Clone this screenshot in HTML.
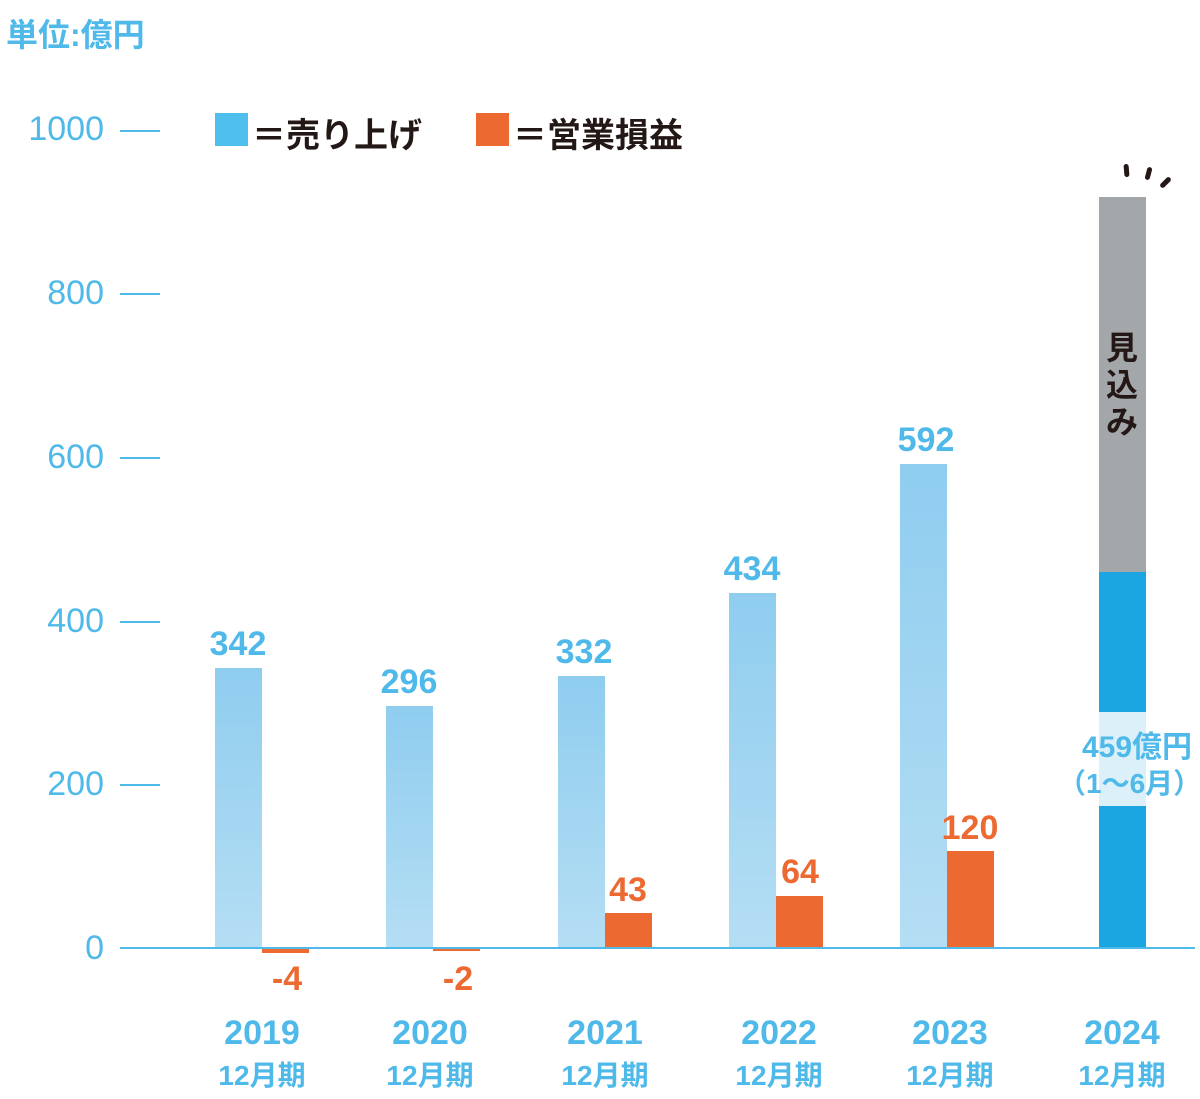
<!DOCTYPE html>
<html><head><meta charset="utf-8"><style>
body{margin:0;width:1200px;height:1097px;background:#fff;position:relative;overflow:hidden;font-family:"Liberation Sans","Noto Sans CJK JP",sans-serif}
.a{position:absolute}
.t{position:absolute;color:#4fb9e9;font-weight:bold;white-space:nowrap}
.yl{position:absolute;color:#4fb9e9;font-size:34px;text-align:right;width:104px;left:0}
.tk{position:absolute;left:120px;width:40px;height:2px;background:#4fb9e9}
.b{position:absolute;background:linear-gradient(#8fcdef,#b5def4)}
.o{position:absolute;background:#ec6a32}
.v{position:absolute;font-size:34px;font-weight:bold;text-align:center;width:120px}
.x{position:absolute;color:#4fb9e9;font-weight:bold;text-align:center;width:150px;line-height:36px}
.m{position:absolute;width:5px;height:13px;background:#231815;border-radius:3px}
</style></head><body>
<div class="t" style="left:6px;top:10px;font-size:32px">単位:億円</div>
<div class="yl" style="top:110px">1000</div><div class="tk" style="top:130px"></div>
<div class="yl" style="top:274px">800</div><div class="tk" style="top:293px"></div>
<div class="yl" style="top:438px">600</div><div class="tk" style="top:457px"></div>
<div class="yl" style="top:602px">400</div><div class="tk" style="top:621px"></div>
<div class="yl" style="top:765px">200</div><div class="tk" style="top:784px"></div>
<div class="yl" style="top:929px">0</div>
<div class="a" style="left:215px;top:113px;width:33px;height:33px;background:#4fc0ee"></div>
<div class="a" style="left:252px;top:108px;font-size:34px;font-weight:bold;color:#231815">＝売り上げ</div>
<div class="a" style="left:476px;top:113px;width:33px;height:33px;background:#ec6a32"></div>
<div class="a" style="left:513px;top:108px;font-size:34px;font-weight:bold;color:#231815">＝営業損益</div>

<div class="b" style="left:215px;top:668px;width:47px;height:280px"></div>
<div class="o" style="left:262px;top:948px;width:47px;height:5px"></div>
<div class="b" style="left:386px;top:706px;width:47px;height:242px"></div>
<div class="o" style="left:433px;top:948px;width:47px;height:3px"></div>
<div class="b" style="left:558px;top:676px;width:47px;height:272px"></div>
<div class="o" style="left:605px;top:913px;width:47px;height:35px"></div>
<div class="b" style="left:729px;top:593px;width:47px;height:355px"></div>
<div class="o" style="left:776px;top:896px;width:47px;height:52px"></div>
<div class="b" style="left:900px;top:464px;width:47px;height:484px"></div>
<div class="o" style="left:947px;top:851px;width:47px;height:97px"></div>
<div class="a" style="left:1099px;top:197px;width:47px;height:375px;background:#a3a7aa"></div>
<div class="a" style="left:1099px;top:572px;width:47px;height:376px;background:#1ba6e1"></div>
<div class="a" style="left:1099px;top:712px;width:47px;height:94px;background:#dcf0fa"></div>
<div class="a" style="left:1106px;top:330px;width:32px;font-size:32px;font-weight:bold;color:#231815;line-height:37px;text-align:center">見込み</div>
<div class="m" style="left:1124px;top:164px;transform:rotate(-5deg)"></div>
<div class="m" style="left:1146px;top:167px;transform:rotate(15deg)"></div>
<div class="m" style="left:1163px;top:176px;transform:rotate(45deg)"></div>
<div class="t" style="left:1082px;top:722px;font-size:30px">459億円</div>
<div class="t" style="left:1058px;top:762px;font-size:28px">（1～6月）</div>
<div class="a" style="left:120px;top:947px;width:1075px;height:2px;background:#4fb9e9"></div>

<div class="v" style="left:178px;top:625px;color:#4fb9e9">342</div>
<div class="v" style="left:349px;top:663px;color:#4fb9e9">296</div>
<div class="v" style="left:524px;top:633px;color:#4fb9e9">332</div>
<div class="v" style="left:692px;top:550px;color:#4fb9e9">434</div>
<div class="v" style="left:866px;top:421px;color:#4fb9e9">592</div>
<div class="v" style="left:227px;top:960px;color:#ec6a32">-4</div>
<div class="v" style="left:398px;top:960px;color:#ec6a32">-2</div>
<div class="v" style="left:568px;top:871px;color:#ec6a32">43</div>
<div class="v" style="left:740px;top:853px;color:#ec6a32">64</div>
<div class="v" style="left:910px;top:809px;color:#ec6a32">120</div>

<div class="x" style="left:187px;top:1015px"><span style="font-size:34px">2019</span><br><span style="font-size:28px">12月期</span></div>
<div class="x" style="left:355px;top:1015px"><span style="font-size:34px">2020</span><br><span style="font-size:28px">12月期</span></div>
<div class="x" style="left:530px;top:1015px"><span style="font-size:34px">2021</span><br><span style="font-size:28px">12月期</span></div>
<div class="x" style="left:704px;top:1015px"><span style="font-size:34px">2022</span><br><span style="font-size:28px">12月期</span></div>
<div class="x" style="left:875px;top:1015px"><span style="font-size:34px">2023</span><br><span style="font-size:28px">12月期</span></div>
<div class="x" style="left:1047px;top:1015px"><span style="font-size:34px">2024</span><br><span style="font-size:28px">12月期</span></div>
</body></html>
